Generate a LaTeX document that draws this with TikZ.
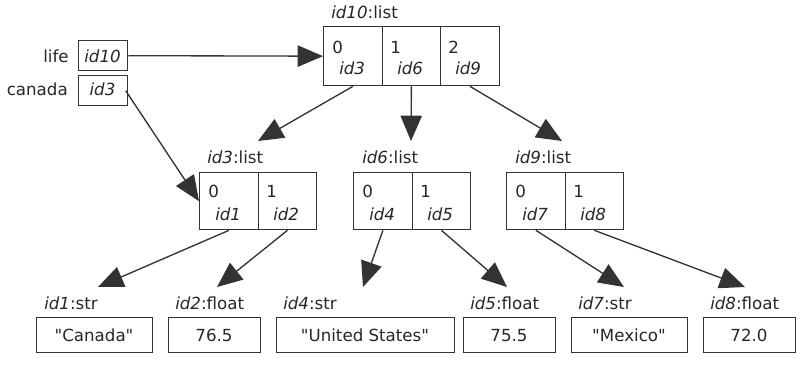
\documentclass[tikz,border=0pt]{standalone}
\usepackage{fontspec}
\setmainfont{DejaVu Sans}[Ligatures=TeXOff]
\usetikzlibrary{arrows.meta}
\newcommand{\dq}{\symbol{34}}
\begin{document}
\begin{tikzpicture}[x=0.75pt,y=-0.75pt,
  font=\fontsize{12.5pt}{14pt}\selectfont,
  box/.style={draw=black!80,line width=1pt,inner sep=0pt},
  cellbig/.style={box,anchor=north west,minimum width=58.5*0.75pt,minimum height=59*0.75pt},
  cell/.style={box,anchor=north west,minimum width=58.5*0.75pt,minimum height=57*0.75pt},
  varbox/.style={box,anchor=north west,minimum width=49*0.75pt,minimum height=30*0.75pt},
  valbox/.style={box,anchor=north west,minimum height=35*0.75pt},
  txt/.style={inner sep=0pt,anchor=base west,text=black!85},
  ptr/.style={draw=black!80,line width=1pt,-{Triangle[length=19pt,width=16pt]}}
]
\useasboundingbox (0,0) rectangle (806,365);

% variables
\node[varbox] (lv) at (78,40) {};
\node[varbox] (cv) at (78,75) {};
\node[txt,anchor=base east] (lifet) at (69,62) {life};
\node[txt,anchor=base east] (canadat) at (68,95) {canada};
\node[txt,anchor=base] (lvt) at (102.5,62) {\itshape id10};
\node[txt,anchor=base] (cvt) at (102.5,95) {\itshape id3};

% id10 list
\node[txt] (l10lab) at (331,18) {\itshape id10\upshape:list};
\node[cellbig] (L10a) at (323,26) {};
\node[cellbig] (L10b) at (381.5,26) {};
\node[cellbig] (L10c) at (440,26) {};
\node[txt] (L10ai) at (332,53) {0};
\node[txt] (L10bi) at (390,53) {1};
\node[txt] (L10ci) at (448,53) {2};
\node[txt] (L10av) at (339,74) {\itshape id3};
\node[txt] (L10bv) at (397,74) {\itshape id6};
\node[txt] (L10cv) at (455,74) {\itshape id9};

% id3 list
\node[txt] (l3lab) at (207,163) {\itshape id3\upshape:list};
\node[cell] (L3a) at (199,172) {};
\node[cell] (L3b) at (257.5,172) {};
\node[txt] (L3ai) at (208,197) {0};
\node[txt] (L3bi) at (266,197) {1};
\node[txt] (L3av) at (215,220) {\itshape id1};
\node[txt] (L3bv) at (273,220) {\itshape id2};

% id6 list
\node[txt] (l6lab) at (362,163) {\itshape id6\upshape:list};
\node[cell] (L6a) at (353,172) {};
\node[cell] (L6b) at (411.5,172) {};
\node[txt] (L6ai) at (362,197) {0};
\node[txt] (L6bi) at (420,197) {1};
\node[txt] (L6av) at (369,220) {\itshape id4};
\node[txt] (L6bv) at (427,220) {\itshape id5};

% id9 list
\node[txt] (l9lab) at (515,163) {\itshape id9\upshape:list};
\node[cell] (L9a) at (506,172) {};
\node[cell] (L9b) at (564.5,172) {};
\node[txt] (L9ai) at (515,197) {0};
\node[txt] (L9bi) at (573,197) {1};
\node[txt] (L9av) at (522,220) {\itshape id7};
\node[txt] (L9bv) at (580,220) {\itshape id8};

% values
\node[txt] (t1) at (44,309) {\itshape id1\upshape:str};
\node[txt] (t2) at (175,309) {\itshape id2\upshape:float};
\node[txt] (t4) at (283,309) {\itshape id4\upshape:str};
\node[txt] (t5) at (470,309) {\itshape id5\upshape:float};
\node[txt] (t7) at (578,309) {\itshape id7\upshape:str};
\node[txt] (t8) at (710,309) {\itshape id8\upshape:float};

\node[valbox,minimum width=116*0.75pt] (v1) at (36,317) {};
\node[valbox,minimum width=92*0.75pt] (v2) at (168,317) {};
\node[valbox,minimum width=178*0.75pt] (v4) at (276,317) {};
\node[valbox,minimum width=92*0.75pt] (v5) at (463,317) {};
\node[valbox,minimum width=116*0.75pt] (v7) at (571,317) {};
\node[valbox,minimum width=92*0.75pt] (v8) at (703,317) {};
\node[txt,anchor=base] (v1t) at (94,341) {\dq Canada\dq};
\node[txt,anchor=base] (v2t) at (214,341) {76.5};
\node[txt,anchor=base] (v4t) at (365,341) {\dq United States\dq};
\node[txt,anchor=base] (v5t) at (509,341) {75.5};
\node[txt,anchor=base] (v7t) at (629,341) {\dq Mexico\dq};
\node[txt,anchor=base] (v8t) at (749,341) {72.0};

% arrow tips
\coordinate (p3) at (258,141);
\coordinate (p6) at (411,141);
\coordinate (p9) at (562,141);
\coordinate (q1) at (98,287);
\coordinate (q2) at (217,287);
\coordinate (q4) at (363,287);
\coordinate (q5) at (507,287);
\coordinate (q7) at (624,287);
\coordinate (q8) at (745,287);

% connectors
\draw[ptr] (lv.east) -- (L10a.west);
\draw[ptr] ([xshift=-2pt]cv.east) -- (L3a.west);
\draw[ptr] (L10a.south) -- (p3);
\draw[ptr] (L10b.south) -- (p6);
\draw[ptr] (L10c.south) -- (p9);
\draw[ptr] (L3a.south) -- (q1);
\draw[ptr] (L3b.south) -- (q2);
\draw[ptr] (L6a.south) -- (q4);
\draw[ptr] (L6b.south) -- (q5);
\draw[ptr] (L9a.south) -- (q7);
\draw[ptr] (L9b.south) -- (q8);
\end{tikzpicture}
\end{document}
